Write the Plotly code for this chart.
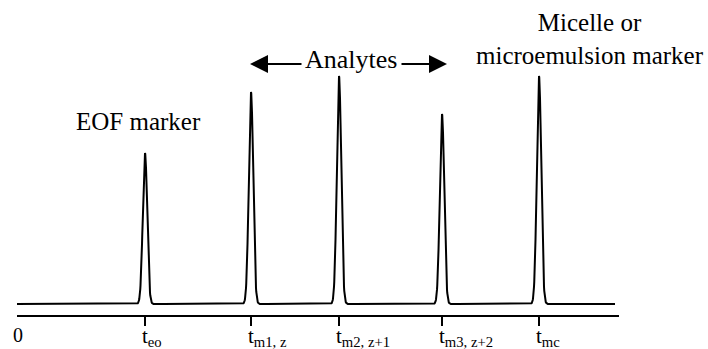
import numpy as np
import plotly.graph_objects as go

# ---- data ----
peak_names = ["eo", "m1", "m2", "m3", "mc"]
peak_times = [128, 234, 322, 425, 522]          # migration time (arb. units)
peak_heights = [151, 212, 228, 190, 228]        # detector signal (arb. units)
peak_sigma = 2.2
time_start, time_end = 0, 598
axis_end = 602
tick_labels = [
    "t<sub>eo</sub>",
    "t<sub>m1, z</sub>",
    "t<sub>m2, z+1</sub>",
    "t<sub>m3, z+2</sub>",
    "t<sub>mc</sub>",
]

t = np.arange(time_start, time_end + 0.01, 0.25)
signal = np.zeros_like(t)
for pt, ph in zip(peak_times, peak_heights):
    signal += ph * np.exp(-0.5 * ((t - pt) / peak_sigma) ** 2)

FONT = "Liberation Serif, Times New Roman, DejaVu Serif, serif"

fig = go.Figure()
fig.add_trace(go.Scatter(x=t, y=signal, mode="lines",
                         line=dict(color="black", width=2), hoverinfo="skip"))

W, H = 708, 349
PH = 315  # plot area height in px
fig.update_layout(
    width=W, height=H,
    margin=dict(l=0, r=0, t=0, b=H - PH),
    paper_bgcolor="white", plot_bgcolor="white",
    showlegend=False,
    font=dict(family=FONT, color="black"),
    xaxis=dict(domain=[17 / W, 619 / W], range=[0, axis_end],
               showline=True, linecolor="black", linewidth=2,
               showgrid=False, zeroline=False,
               ticks="outside", ticklen=9, tickwidth=2, tickcolor="black",
               tickvals=peak_times, showticklabels=False),
    yaxis=dict(range=[-11, 304], visible=False, showgrid=False, zeroline=False),
)

def py(pix):
    """pixel row -> paper y"""
    return (PH - pix) / PH

ann = []
# origin label
ann.append(dict(x=0.5, y=py(335), xref="x", yref="paper", text="0", showarrow=False,
                font=dict(size=20, family=FONT), xanchor="center", yanchor="middle"))
# time labels
for pt, lab in zip(peak_times, tick_labels):
    ann.append(dict(x=pt - 5, y=py(322), xref="x", yref="paper", text=lab, showarrow=False,
                    font=dict(size=21, family=FONT), xanchor="left", yanchor="top"))
# EOF marker
ann.append(dict(x=121, y=183, xref="x", yref="y", text="EOF marker", showarrow=False,
                font=dict(size=25, family=FONT), xanchor="center", yanchor="middle"))
# Analytes
ann.append(dict(x=334, y=245, xref="x", yref="y", text="Analytes", showarrow=False,
                font=dict(size=26, family=FONT), xanchor="center", yanchor="middle"))
# arrows
ann.append(dict(x=peak_times[1] - 1, y=240, ax=286, ay=240, xref="x", yref="y",
                axref="x", ayref="y", text="", showarrow=True, arrowhead=2,
                arrowsize=1.8, arrowwidth=2, arrowcolor="black"))
ann.append(dict(x=peak_times[3] + 5, y=240, ax=383, ay=240, xref="x", yref="y",
                axref="x", ayref="y", text="", showarrow=True, arrowhead=2,
                arrowsize=1.8, arrowwidth=2, arrowcolor="black"))
# Micelle marker
ann.append(dict(x=573, y=265, xref="x", yref="y",
                text="Micelle or<br>microemulsion marker", showarrow=False,
                font=dict(size=25, family=FONT), xanchor="center", yanchor="middle"))

fig.update_layout(annotations=ann)
fig.write_html("out.html")
